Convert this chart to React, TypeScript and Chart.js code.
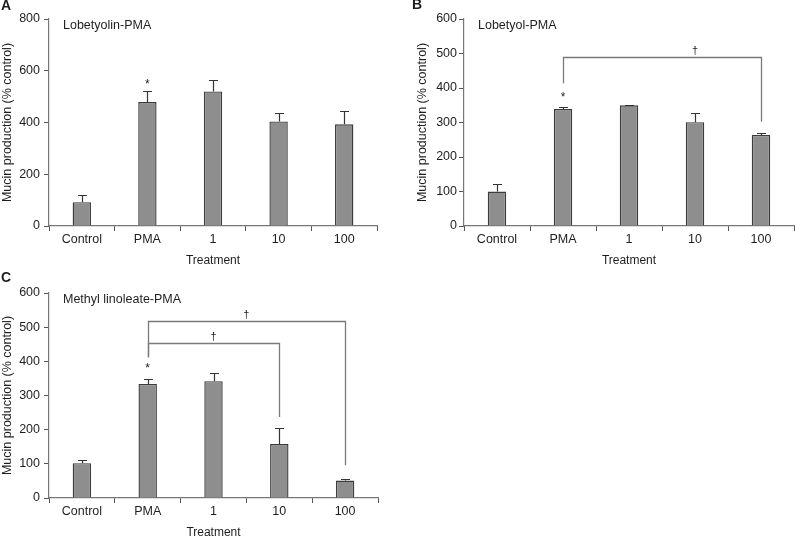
import React, { useEffect, useRef } from "react";
import { Chart, registerables } from "chart.js";

Chart.register(...registerables);

// ---------- data ----------
const categories = ["Control", "PMA", "1", "10", "100"];

const lobetyolinValues = [92, 479, 520, 404, 393];
const lobetyolinErrors = [28, 41, 43, 31, 52];

const lobetyolValues = [100, 339, 350, 301, 264];
const lobetyolErrors = [23, 5, 1, 26, 6];

const methylValues = [102, 334, 342, 158, 51];
const methylErrors = [8, 13, 24, 47, 5];

// significance markers: [category index, value position]
const lobetyolinStars = [[1, 560]];
const lobetyolStars = [[1, 383]];
const methylStars = [[1, 389]];

// brackets: [fromIndex, toIndex, topValue, fromBottomValue, toBottomValue, markIndex]
const lobetyolinBrackets: number[][] = [];
const lobetyolBrackets = [[1, 4, 491, 414, 302, 3]];
const methylBrackets = [
  [1, 4, 517, 412, 96, 2.5],
  [1, 3, 455, 412, 237, 2],
];

const FONT = "'Liberation Sans', Arial, Helvetica, sans-serif";
const TEXT = "#1e1e1e";

type Panel = {
  letter: string;
  title: string;
  values: number[];
  errors: number[];
  stars: number[][];
  brackets: number[][];
  max: number;
  step: number;
  left: number;
  top: number;
  width: number;
  height: number;
  padTop: number;
  padRight: number;
  yWidth: number;
  yTitlePad: number;
  yTickPad: number;
  letterBase: number;
  letterX: number;
};

const panels: Panel[] = [
  {
    letter: "A", title: "Lobetyolin-PMA", values: lobetyolinValues, errors: lobetyolinErrors,
    stars: lobetyolinStars, brackets: lobetyolinBrackets, max: 800, step: 200,
    left: 0, top: 0, width: 390, height: 270, padTop: 19, padRight: 13, yWidth: 49,
    yTitlePad: 0, yTickPad: 4, letterBase: 10, letterX: 1,
  },
  {
    letter: "B", title: "Lobetyol-PMA", values: lobetyolValues, errors: lobetyolErrors,
    stars: lobetyolStars, brackets: lobetyolBrackets, max: 600, step: 100,
    left: 410, top: 0, width: 385, height: 270, padTop: 19, padRight: 1, yWidth: 54,
    yTitlePad: 5.5, yTickPad: 2, letterBase: 9, letterX: 2,
  },
  {
    letter: "C", title: "Methyl linoleate-PMA", values: methylValues, errors: methylErrors,
    stars: methylStars, brackets: methylBrackets, max: 600, step: 100,
    left: 0, top: 270, width: 390, height: 272, padTop: 23, padRight: 12, yWidth: 49,
    yTitlePad: 0, yTickPad: 4, letterBase: 12, letterX: 1,
  },
];

const crisp = (v: number) => Math.round(v) + 0.5;

function makeOverlay(p: Panel) {
  return {
    id: "overlay" + p.letter,
    afterDatasetsDraw(chart: any) {
      const ctx = chart.ctx;
      const xs = chart.scales.x;
      const ys = chart.scales.y;
      const meta = chart.getDatasetMeta(0);
      ctx.save();
      // error bars
      ctx.strokeStyle = "#333";
      ctx.lineWidth = 1.2;
      meta.data.forEach((bar: any, i: number) => {
        const cx = crisp(bar.x);
        const y0 = ys.getPixelForValue(p.values[i]);
        const y1 = Math.round(ys.getPixelForValue(p.values[i] + p.errors[i])) + 0.5;
        ctx.beginPath();
        ctx.moveTo(cx, y0);
        ctx.lineTo(cx, y1);
        ctx.moveTo(cx - 4.5, y1);
        ctx.lineTo(cx + 4.5, y1);
        ctx.stroke();
      });
      // brackets
      ctx.strokeStyle = "#7a7a7a";
      ctx.lineWidth = 1.3;
      ctx.fillStyle = TEXT;
      ctx.font = `11px ${FONT}`;
      ctx.textAlign = "center";
      ctx.textBaseline = "alphabetic";
      p.brackets.forEach((b) => {
        const [from, to, top, fb, tb, mark] = b;
        const xa = crisp(xs.getPixelForValue(from));
        const xb = crisp(xs.getPixelForValue(to));
        const yt = crisp(ys.getPixelForValue(top));
        ctx.beginPath();
        ctx.moveTo(xa, ys.getPixelForValue(fb));
        ctx.lineTo(xa, yt);
        ctx.lineTo(xb, yt);
        ctx.lineTo(xb, ys.getPixelForValue(tb));
        ctx.stroke();
        ctx.fillText("\u2020", xs.getPixelForValue(mark), yt - 4);
      });
      // asterisks
      ctx.font = `12px ${FONT}`;
      p.stars.forEach(([idx, val]) => {
        ctx.fillText("*", xs.getPixelForValue(idx), ys.getPixelForValue(val) + 7);
      });
      // panel title inside plot
      ctx.textAlign = "left";
      ctx.textBaseline = "middle";
      ctx.font = `12.5px ${FONT}`;
      ctx.fillText(p.title, chart.chartArea.left + 14, chart.chartArea.top + 7);
      // panel letter
      ctx.font = `bold 14px ${FONT}`;
      ctx.textBaseline = "alphabetic";
      ctx.fillText(p.letter, p.letterX, p.letterBase);
      ctx.restore();
    },
  };
}

function PanelChart({ p }: { p: Panel }) {
  const ref = useRef<HTMLCanvasElement>(null);
  useEffect(() => {
    if (!ref.current) return;
    const chart = new Chart(ref.current, {
      type: "bar",
      data: {
        labels: categories,
        datasets: [
          {
            data: p.values,
            backgroundColor: "#8e8e8e",
            borderColor: "#3c3c3c",
            borderWidth: 1.4,
            barPercentage: 0.28,
            categoryPercentage: 1,
          },
        ],
      },
      options: {
        animation: false,
        responsive: false,
        maintainAspectRatio: false,
        devicePixelRatio: 1,
        layout: { padding: { top: p.padTop, right: p.padRight, left: 0, bottom: 0 } },
        plugins: { legend: { display: false }, tooltip: { enabled: false }, title: { display: false } },
        scales: {
          x: {
            grid: { drawOnChartArea: false, drawTicks: true, tickLength: 5, color: "#555", offset: true },
            border: { color: "#777", width: 1.2 },
            ticks: { font: { family: FONT, size: 12.5 }, color: TEXT, padding: 1, maxRotation: 0 },
            title: {
              display: true, text: "Treatment", color: TEXT,
              font: { family: FONT, size: 12 }, padding: { top: 0, bottom: 2 },
            },
            afterFit: (s: any) => { s.height = 44; },
          },
          y: {
            min: 0,
            max: p.max,
            grid: { drawOnChartArea: false, drawTicks: true, tickLength: 5, color: "#555" },
            border: { color: "#777", width: 1.2 },
            ticks: { stepSize: p.step, font: { family: FONT, size: 12.5 }, color: TEXT, padding: p.yTickPad },
            title: {
              display: true, text: "Mucin production (% control)", color: TEXT,
              font: { family: FONT, size: 12.5 }, padding: { top: p.yTitlePad, bottom: 0 },
            },
            afterFit: (s: any) => { s.width = p.yWidth; },
          },
        },
      } as any,
      plugins: [makeOverlay(p)],
    });
    return () => chart.destroy();
  }, [p]);
  return (
    <canvas
      ref={ref}
      width={p.width}
      height={p.height}
      style={{ position: "absolute", left: p.left, top: p.top, width: p.width, height: p.height }}
    />
  );
}

export default function App() {
  return (
    <div
      style={{
        position: "absolute", left: 0, top: 0, width: 795, height: 536,
        overflow: "hidden", background: "#fff",
      }}
    >
      {panels.map((p) => (
        <PanelChart key={p.letter} p={p} />
      ))}
    </div>
  );
}
